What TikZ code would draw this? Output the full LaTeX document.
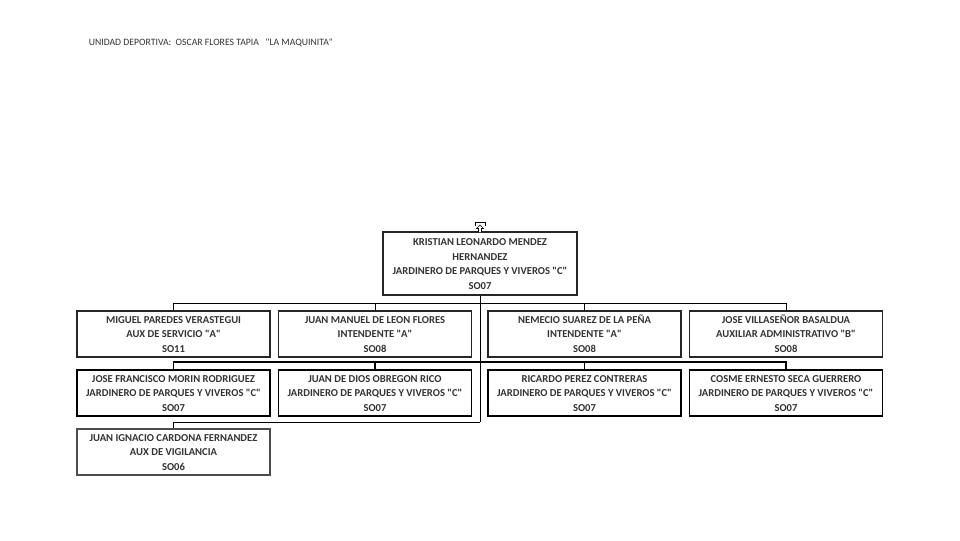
\documentclass[tikz,border=0pt]{standalone}
\usepackage{fontspec}
\newfontfamily\carl{Carlito}
\begin{document}
\begin{tikzpicture}[x=0.75pt,y=-0.75pt,
  box/.style={draw=black!85,line width=0.9pt,fill=white,inner sep=0pt,align=center,font=\carl\fontsize{7.95}{11}\selectfont\bfseries,text=black!80},
  boxheavy/.style={box,draw=black,line width=1.3pt},
  boxlight/.style={box,draw=black!70,line width=0.8pt},
  link/.style={draw=black,line width=0.6pt},
  linkheavy/.style={draw=black,line width=1pt}]
\useasboundingbox (0,0) rectangle (960,540);
\fill[white] (0,0) rectangle (960,540);
\node[anchor=west,inner sep=0pt,font=\carl\fontsize{7.3}{9}\selectfont,text=black!80] (title) at (88.5,42.7) {UNIDAD DEPORTIVA:\ \ OSCAR FLORES TAPIA\ \ \ "LA MAQUINITA"};
\newcommand{\orgbox}[8]{\node[#1,minimum width=#4*0.75pt,minimum height=#5*0.75pt] (#6) at (#2,#3) {\rule{0pt}{8.4pt}#7\\#8\rule[-2.5pt]{0pt}{2.5pt}};}
\orgbox{box}{480}{263.5}{194}{63}{top}{KRISTIAN LEONARDO MENDEZ\\HERNANDEZ\\JARDINERO DE PARQUES Y VIVEROS "C"}{SO07}
\orgbox{box}{173.5}{334}{193}{46}{a1}{MIGUEL PAREDES VERASTEGUI\\AUX DE SERVICIO "A"}{SO11}
\orgbox{box}{375}{334}{193}{46}{a2}{JUAN MANUEL DE LEON FLORES\\INTENDENTE "A"}{SO08}
\orgbox{box}{584.5}{334}{193}{46}{a3}{NEMECIO SUAREZ DE LA PEÑA\\INTENDENTE "A"}{SO08}
\orgbox{box}{786}{334}{193}{46}{a4}{JOSE VILLASEÑOR BASALDUA\\AUXILIAR ADMINISTRATIVO "B"}{SO08}
\orgbox{boxheavy}{173.5}{393}{193}{46}{b1}{JOSE FRANCISCO MORIN RODRIGUEZ\\JARDINERO DE PARQUES Y VIVEROS "C"}{SO07}
\orgbox{boxheavy}{375}{393}{193}{46}{b2}{JUAN DE DIOS OBREGON RICO\\JARDINERO DE PARQUES Y VIVEROS "C"}{SO07}
\orgbox{boxheavy}{584.5}{393}{193}{46}{b3}{RICARDO PEREZ CONTRERAS\\JARDINERO DE PARQUES Y VIVEROS "C"}{SO07}
\orgbox{boxheavy}{786}{393}{193}{46}{b4}{COSME ERNESTO SECA GUERRERO\\JARDINERO DE PARQUES Y VIVEROS "C"}{SO07}
\orgbox{boxlight}{173.5}{452}{193}{46}{c1}{JUAN IGNACIO CARDONA FERNANDEZ\\AUX DE VIGILANCIA}{SO06}
\coordinate (j1) at (480,303);
\coordinate (j2) at (480,362);
\coordinate (j3) at (480,422);
\draw[link] (top.south) -- (j3);
\draw[link] (j1) -| (a1.north);
\draw[link] (j1) -| (a2.north);
\draw[link] (j1) -| (a3.north);
\draw[link] (j1) -| (a4.north);
\draw[linkheavy] (j2) -| (b1.north);
\draw[linkheavy] (j2) -| (b2.north);
\draw[linkheavy] (j2) -| (b3.north);
\draw[linkheavy] (j2) -| (b4.north);
\draw[link] (j3) -| (c1.north);
\draw[line width=0.55pt] (475,226) -- (475,222) -- (485,222) -- (485,226);
\draw[line width=0.5pt,fill=white] (478.5,232) -- (478.5,228.5) -- (476.5,228.5) -- (480,225) -- (483.5,228.5) -- (481.5,228.5) -- (481.5,232);
\end{tikzpicture}
\end{document}
